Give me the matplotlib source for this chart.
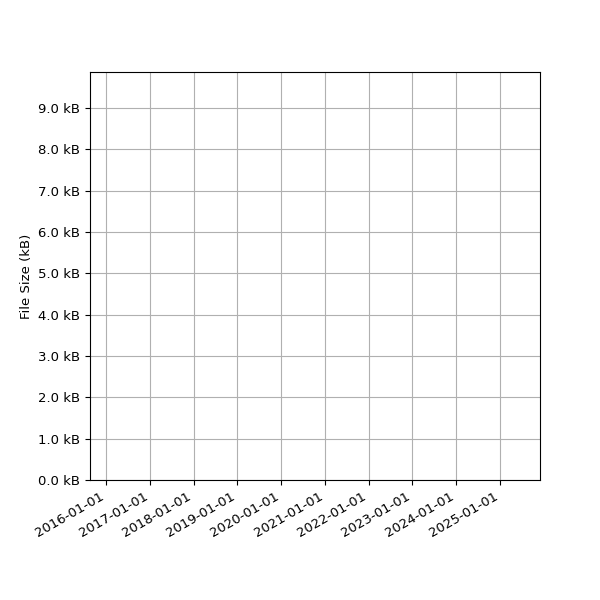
import matplotlib
matplotlib.use("Agg")
import matplotlib.pyplot as plt
import matplotlib.dates as mdates
from matplotlib.ticker import FuncFormatter, MultipleLocator
import datetime as dt
import numpy as np

plt.rcParams["font.size"] = 9.5

# Data (the reference chart shows no plotted series)
dates = []
sizes_kb = []
tick_years = [2016, 2017, 2018, 2019, 2020, 2021, 2022, 2023, 2024, 2025]
x_start = dt.datetime(2015, 8, 21)
x_end = dt.datetime(2025, 12, 1)
y_max_kb = 9.87

fig, ax = plt.subplots(figsize=(6, 6), dpi=100)
ax.plot(dates, sizes_kb)
ax.set_xlim(x_start, x_end)
ax.set_ylim(0, y_max_kb)
ax.xaxis.set_major_locator(mdates.YearLocator())
ax.xaxis.set_major_formatter(mdates.DateFormatter("%Y-%m-%d"))
ax.yaxis.set_major_locator(MultipleLocator(1.0))
ax.yaxis.set_major_formatter(FuncFormatter(lambda v, p: f"{v:.1f} kB"))
ax.set_ylabel("File Size (kB)")
ax.grid(True)
fig.autofmt_xdate()
fig.subplots_adjust(left=0.15, right=0.9, top=0.88, bottom=0.2)
fig.savefig("out.png", dpi=100)
